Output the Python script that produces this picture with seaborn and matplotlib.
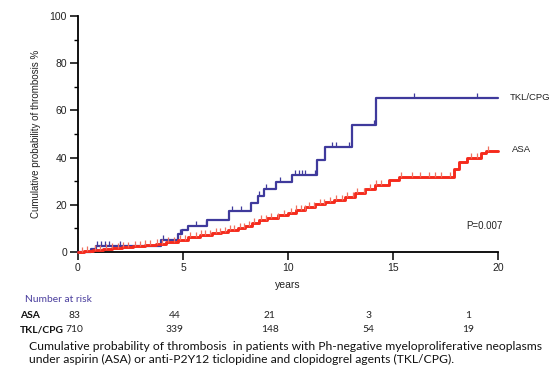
import numpy as np
import pandas as pd
import matplotlib
matplotlib.use("Agg")
import matplotlib.pyplot as plt
import seaborn as sns
from matplotlib.path import Path

# ---------------- data ----------------
tkl_times = [0, 0.6, 0.85, 3.95, 4.75, 4.95, 5.25, 6.13, 7.2, 8.25, 8.55, 8.85, 9.42,
             10.2, 11.4, 11.77, 13.04, 14.2, 20.0]
tkl_cum = [0, 1.2, 2.4, 5.0, 7.5, 9.5, 11.0, 13.6, 17.2, 20.6, 23.8, 26.7, 29.6,
           32.6, 38.8, 44.6, 53.8, 65.2, 65.2]
tkl_censor = [0.9, 1.1, 1.3, 1.5, 2.0, 4.05, 4.85, 5.6, 6.1, 7.35, 7.75, 8.6, 8.95,
              9.6, 10.35, 10.5, 10.65, 10.8, 11.3, 12.1, 12.3, 12.9, 14.1, 16.0, 19.0]

asa_times = [0, 0.3, 0.7, 1.2, 1.6, 2.1, 2.6, 3.2, 3.7, 4.2, 4.77, 5.25, 5.8, 6.36, 6.8,
             7.15, 7.6, 7.95, 8.3, 8.6, 9.0, 9.54, 10.0, 10.4, 10.82, 11.3, 11.77, 12.2,
             12.72, 13.2, 13.68, 14.15, 14.79, 15.27, 17.89, 18.13, 18.5, 19.2, 19.45, 20.0]
asa_cum = [0, 0.5, 0.8, 1.2, 1.6, 2.0, 2.4, 3.0, 3.6, 4.2, 5.1, 6.2, 7.0, 7.9, 8.6,
           9.3, 10.2, 11.2, 12.5, 13.6, 14.6, 15.7, 16.6, 17.8, 19.0, 20.2, 21.2, 22.0,
           23.4, 25.0, 26.8, 28.6, 30.5, 31.8, 35.2, 38.0, 39.7, 41.8, 43.0, 43.0]
asa_censor = [0.2, 0.45, 0.8, 1.05, 1.35, 1.6, 1.9, 2.15, 2.4, 2.7, 2.95, 3.2, 3.45,
              3.75, 4.0, 4.3, 4.55, 4.85, 5.1, 5.35, 5.6, 5.85, 6.05, 6.3, 6.55, 6.75,
              7.0, 7.25, 7.45, 7.7, 7.9, 8.15, 8.4, 8.7, 8.95, 9.2, 9.5, 9.8, 10.15,
              10.4, 10.6, 10.8, 11.0, 11.25, 11.5, 11.7, 12.0, 12.3, 12.55, 12.8, 13.1,
              13.3, 13.6, 13.9, 14.2, 14.45, 15.4, 15.9, 16.3, 16.7, 17.0, 17.3, 17.7,
              18.7, 19.0, 19.5]

risk_years = [0, 5, 10, 15, 20]
risk_asa = [83, 44, 21, 3, 1]
risk_tkl = [710, 339, 148, 54, 19]

# ---------------- style ----------------
sns.set_theme(style="white")
plt.rcParams['font.family'] = ['Liberation Sans', 'DejaVu Sans']

W, H = 558, 378
fig = plt.figure(figsize=(W / 100, H / 100), dpi=100)
fig.patch.set_facecolor('white')
ax = fig.add_axes([78 / W, 1 - 252 / H, 420 / W, 236 / H])
ax.set_facecolor('white')

BLUE = '#3f3a9c'
RED = '#f52a1c'
RED_TICK = '#f0705f'

tick_path = Path([(0, 0), (0, 1)], [Path.MOVETO, Path.LINETO])


def step_value(times, cum, t):
    i = np.searchsorted(times, t, side='right') - 1
    return cum[i]


tkl_df = pd.DataFrame({'years': tkl_times, 'cum': tkl_cum})
asa_df = pd.DataFrame({'years': asa_times, 'cum': asa_cum})

sns.lineplot(data=tkl_df, x='years', y='cum', drawstyle='steps-post', color=BLUE,
             lw=1.6, estimator=None, sort=False, ax=ax, zorder=3, clip_on=False)
sns.lineplot(data=asa_df, x='years', y='cum', drawstyle='steps-post', color=RED,
             lw=2.1, estimator=None, sort=False, ax=ax, zorder=4, clip_on=False)

tkl_cy = [step_value(np.array(tkl_times), tkl_cum, t) for t in tkl_censor]
asa_cy = [step_value(np.array(asa_times), asa_cum, t) for t in asa_censor]
ax.plot(tkl_censor, tkl_cy, linestyle='none', marker=tick_path, markersize=7,
        markeredgewidth=0.9, color=BLUE, zorder=3)
ax.plot(asa_censor, asa_cy, linestyle='none', marker=tick_path, markersize=7,
        markeredgewidth=0.9, color=RED_TICK, zorder=5)

ax.set_xlim(0, 20)
ax.set_ylim(0, 100)
ax.set_xticks(risk_years)
ax.set_yticks([0, 20, 40, 60, 80, 100])
ax.set_yticks([10, 30, 50, 70, 90], minor=True)
for s in ['top', 'right']:
    ax.spines[s].set_visible(False)
for s in ['left', 'bottom']:
    ax.spines[s].set_color('black')
    ax.spines[s].set_linewidth(1.3)
ax.tick_params(axis='both', which='major', direction='out', length=6, width=1.1,
               color='black', labelsize=7.5, labelcolor='#222222', pad=2,
               left=True, bottom=True)
ax.tick_params(axis='y', which='minor', direction='out', length=3, width=1.0,
               color='black', left=True)
ax.set_xlabel('years', fontsize=7.5, color='#222222', labelpad=5)
ax.set_ylabel('Cumulative probability of thrombosis %', fontsize=7, color='#222222',
              labelpad=6)


def px(x, y):
    return x / W, 1 - y / H


fig.text(*px(510, 98), 'TKL/CPG', fontsize=6.8, va='center', ha='left', color='#222222')
fig.text(*px(512, 150), 'ASA', fontsize=6.8, va='center', ha='left', color='#222222')
fig.text(*px(502, 226), 'P=0.007', fontsize=7, va='center', ha='right', color='#222222')

# number at risk table
cap_font = ['Lato', 'DejaVu Sans']
fig.text(*px(25, 299), 'Number at risk', fontsize=7.4, va='center', ha='left',
         color='#4b3f9e', family=cap_font)
fig.text(*px(20, 315), 'ASA', fontsize=7.4, va='center', ha='left', color='#111111',
         family=cap_font, weight='bold')
fig.text(*px(20, 330), 'TKL/CPG', fontsize=7.4, va='center', ha='left', color='#111111',
         family=cap_font, weight='bold')
risk_px = [74, 175, 270, 368, 468]
for xp, a, t in zip(risk_px, risk_asa, risk_tkl):
    fig.text(*px(xp, 315), str(a), fontsize=7.4, va='center', ha='center',
             color='#222222', family=cap_font)
    fig.text(*px(xp, 330), str(t), fontsize=7.4, va='center', ha='center',
             color='#222222', family=cap_font)

fig.text(*px(29, 346), 'Cumulative probability of thrombosis  in patients with Ph-negative '
         'myeloproliferative neoplasms', fontsize=8.75, va='center', ha='left',
         color='#111111', family=cap_font)
fig.text(*px(29, 359.5), 'under aspirin (ASA) or anti-P2Y12 ticlopidine and clopidogrel '
         'agents (TKL/CPG).', fontsize=8.75, va='center', ha='left', color='#111111',
         family=cap_font)

fig.savefig('out.png', dpi=100, facecolor='white')
